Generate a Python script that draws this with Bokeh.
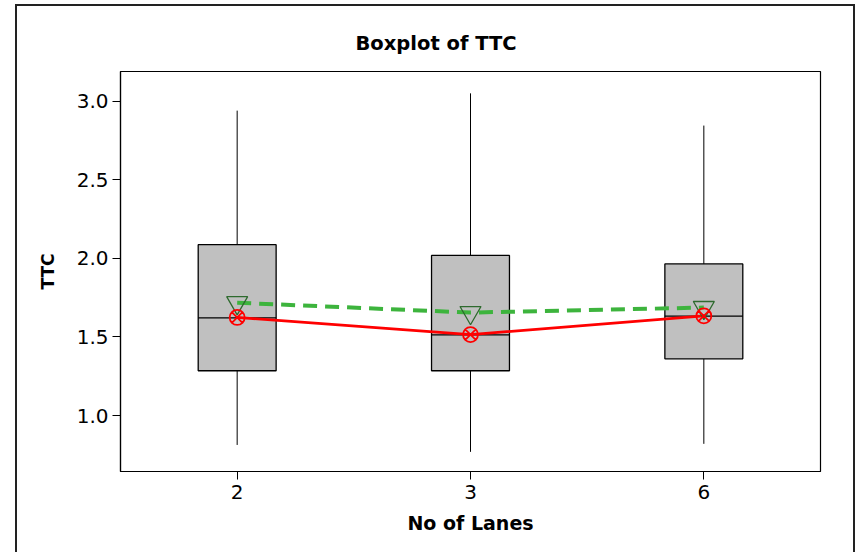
import numpy as np
from bokeh.plotting import figure
from bokeh.models import FixedTicker, PrintfTickFormatter, Range1d
from bokeh.embed import file_html
from bokeh.resources import INLINE

# ---- data ----
lanes = ["2", "3", "6"]
whisker_low = [0.813, 0.769, 0.820]
q1 = [1.285, 1.285, 1.361]
median = [1.622, 1.513, 1.632]
q3 = [2.087, 2.019, 1.965]
whisker_high = [2.940, 3.050, 2.845]
red_values = [1.624, 1.515, 1.634]
green_values = [1.718, 1.655, 1.687]
y_ticks = [1.0, 1.5, 2.0, 2.5, 3.0]

xs = np.arange(1, len(lanes) + 1)
box_w = 0.334

FONT = "DejaVu Sans"

p = figure(width=840, height=548, output_backend="svg", toolbar_location=None,
           title="Boxplot of TTC",
           x_range=Range1d(0.5, len(lanes) + 0.5), y_range=Range1d(0.644, 3.189),
           min_border_left=103, min_border_right=37, min_border_top=65,
           min_border_bottom=83, background_fill_color="white",
           border_fill_color="white")
p.styles = {"border-left": "2px solid #222", "border-top": "2px solid #222",
            "border-right": "2px solid #222",
            "margin-left": "15px", "margin-top": "4px"}

p.title.text_font = FONT
p.title.text_font_style = "bold"
p.title.text_font_size = "19.5px"
p.title.text_color = "black"
p.title.align = "left"
p.title.offset = 235
p.title.standoff = 34

p.xgrid.visible = False
p.ygrid.visible = False
p.outline_line_color = "black"
p.outline_line_width = 1.2
p.outline_line_alpha = 1

# whiskers
p.segment(x0=xs, y0=whisker_low, x1=xs, y1=q1, line_color="black", line_width=1)
p.segment(x0=xs, y0=q3, x1=xs, y1=whisker_high, line_color="black", line_width=1)
# boxes
p.vbar(x=xs, width=box_w, bottom=q1, top=q3, fill_color="#c0c0c0",
       line_color="black", line_width=1.3)
# medians
p.segment(x0=xs - box_w / 2, y0=median, x1=xs + box_w / 2, y1=median,
          line_color="black", line_width=1.3)

# connecting lines
p.line(xs, green_values, line_color="#3db43d", line_width=4, line_dash="14 8")
p.line(xs, red_values, line_color="#ff0000", line_width=2.8)

# markers
p.scatter(xs, green_values, marker="inverted_triangle", size=21,
          fill_color=None, line_color="#2e6a2e", line_width=1.3)
p.scatter(xs, red_values, marker="circle_x", size=15,
          fill_color=None, line_color="#ff0000", line_width=1.8)

# axes
p.xaxis.ticker = FixedTicker(ticks=list(xs))
p.xaxis.major_label_overrides = {int(x): lab for x, lab in zip(xs, lanes)}
p.yaxis.ticker = FixedTicker(ticks=y_ticks)
p.yaxis.formatter = PrintfTickFormatter(format="%.1f")
for ax in (p.xaxis[0], p.yaxis[0]):
    ax.axis_line_color = "black"
    ax.axis_line_width = 1.2
    ax.major_tick_line_color = "black"
    ax.major_tick_line_width = 1
    ax.major_tick_out = 8
    ax.major_tick_in = 0
    ax.minor_tick_line_color = None
    ax.major_label_text_font = FONT
    ax.major_label_text_font_size = "20px"
    ax.major_label_text_color = "black"
    ax.axis_label_text_font = FONT
    ax.axis_label_text_font_style = "bold"
    ax.axis_label_text_color = "black"

p.xaxis.axis_label = "No of Lanes"
p.xaxis.axis_label_text_font_size = "19px"
p.xaxis.major_label_standoff = 5
p.xaxis.axis_label_standoff = 10
p.yaxis.axis_label = "TTC"
p.yaxis.axis_label_text_font_size = "17px"
p.yaxis.major_label_standoff = 4
p.yaxis.axis_label_standoff = 16

open("out.html", "w").write(file_html(p, INLINE))
